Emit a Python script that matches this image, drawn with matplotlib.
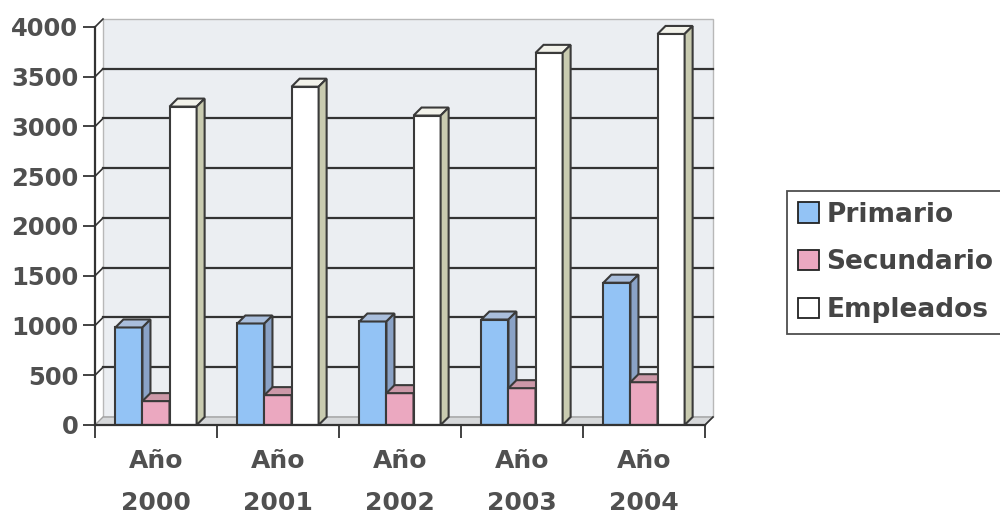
import numpy as np
import matplotlib
matplotlib.use('Agg')
import matplotlib.pyplot as plt
from matplotlib.patches import Polygon, Rectangle

plt.rcParams['font.family'] = ['DejaVu Sans']

# Data
years = ['2000', '2001', '2002', '2003', '2004']
primario = [980, 1020, 1040, 1060, 1430]
secundario = [240, 300, 320, 370, 430]
empleados = [3200, 3400, 3110, 3740, 3930]
series_names = ['Primario', 'Secundario', 'Empleados']
y_ticks = [0, 500, 1000, 1500, 2000, 2500, 3000, 3500, 4000]

# colours: front, top, side
colors = {
    'Primario': ('#93C3F5', '#A9BEDC', '#8AA2C6'),
    'Secundario': ('#EBA8C0', '#CC98A8', '#C2909E'),
    'Empleados': ('#FFFFFF', '#F2F2EA', '#C9CBB0'),
}
edge = '#3A3A3A'
txt = '#505050'

fig = plt.figure(figsize=(10, 5.14), dpi=100)
ax = fig.add_axes([0.095, 0.1732, 0.61, 0.7743])
ax.set_xlim(-0.5, 4.5)
ax.set_ylim(0, 4000)
for s in ax.spines.values():
    s.set_visible(False)

# depth offset of the 3D look (data units)
dx = 8 / 610 * 5
dy = 8 / 398 * 4000
x0, x1 = -0.5, 4.5

# back wall + floor
ax.add_patch(Rectangle((x0 + dx, dy), x1 - x0, 4000, facecolor='#EBEEF2',
                       edgecolor='#B8B8B8', lw=1, clip_on=False, zorder=0))
ax.add_patch(Polygon([[x0, 0], [x1, 0], [x1 + dx, dy], [x0 + dx, dy]],
                     closed=True, facecolor='#D6D8DA', edgecolor='#A0A0A0',
                     lw=1, clip_on=False, zorder=0.5))

# gridlines on the wall and side connectors
for v in y_ticks[1:]:
    if v < 4000:
        ax.plot([x0 + dx, x1 + dx], [v + dy, v + dy], color='#333333', lw=1.6,
                clip_on=False, zorder=1)
    ax.plot([x0, x0 + dx], [v, v + dy], color='#333333', lw=1.2,
            clip_on=False, zorder=1)

# bars, drawn left to right so fronts cover neighbours' side faces
w = 0.222
x = np.arange(len(years))
data = [primario, secundario, empleados]
for i in range(len(years)):
    for j, name in enumerate(series_names):
        front, top, side = colors[name]
        xl = x[i] + (j - 1.5) * w
        xr = xl + w
        h = data[j][i]
        z = 2 + i * 3 + j
        ax.bar(xl, h, width=w, align='edge', color=front, edgecolor=edge,
               lw=1.5, zorder=z)
        ax.add_patch(Polygon([[xl, h], [xr, h], [xr + dx, h + dy], [xl + dx, h + dy]],
                             closed=True, facecolor=top, edgecolor=edge, lw=1.5,
                             zorder=z, clip_on=False))
        ax.add_patch(Polygon([[xr, 0], [xr, h], [xr + dx, h + dy], [xr + dx, dy]],
                             closed=True, facecolor=side, edgecolor=edge, lw=1.5,
                             zorder=z, clip_on=False))

# front axes lines
ax.plot([x0, x0], [0, 4000], color='#333333', lw=1.6, clip_on=False, zorder=30)
ax.plot([x0, x1], [0, 0], color='#333333', lw=1.6, clip_on=False, zorder=30)
ax.plot([x1, x1 + dx], [0, dy], color='#333333', lw=1.2, clip_on=False, zorder=30)

ax.set_yticks(y_ticks)
ax.set_yticklabels([str(v) for v in y_ticks], fontsize=17.5, fontweight='bold', color=txt)
ax.tick_params(axis='y', length=9, width=1.3, color='#333333', pad=3)

ax.set_xticks(x)
ax.set_xticklabels(['Año\n' + y for y in years], fontsize=18, fontweight='bold',
                   color=txt, linespacing=1.95)
ax.set_xticks(np.arange(-0.5, 5, 1), minor=True)
ax.tick_params(axis='x', which='major', length=0, pad=17)
ax.tick_params(axis='x', which='minor', length=9, width=1.3, color='#333333')

handles = [Rectangle((0, 0), 1, 1, facecolor=colors[n][0], edgecolor='#222222', lw=1.3)
           for n in series_names]
leg = fig.legend(handles, series_names, loc='upper left', bbox_to_anchor=(0.787, 0.628),
                 frameon=True, fancybox=False, edgecolor='#222222', fontsize=19,
                 handlelength=0.8, handleheight=0.8, handletextpad=0.3,
                 labelspacing=0.82, borderpad=0.4, borderaxespad=0)
leg.get_frame().set_linewidth(1.3)
for t in leg.get_texts():
    t.set_fontweight('bold')
    t.set_color('#454545')

fig.savefig('out.png', dpi=100, facecolor='white')
